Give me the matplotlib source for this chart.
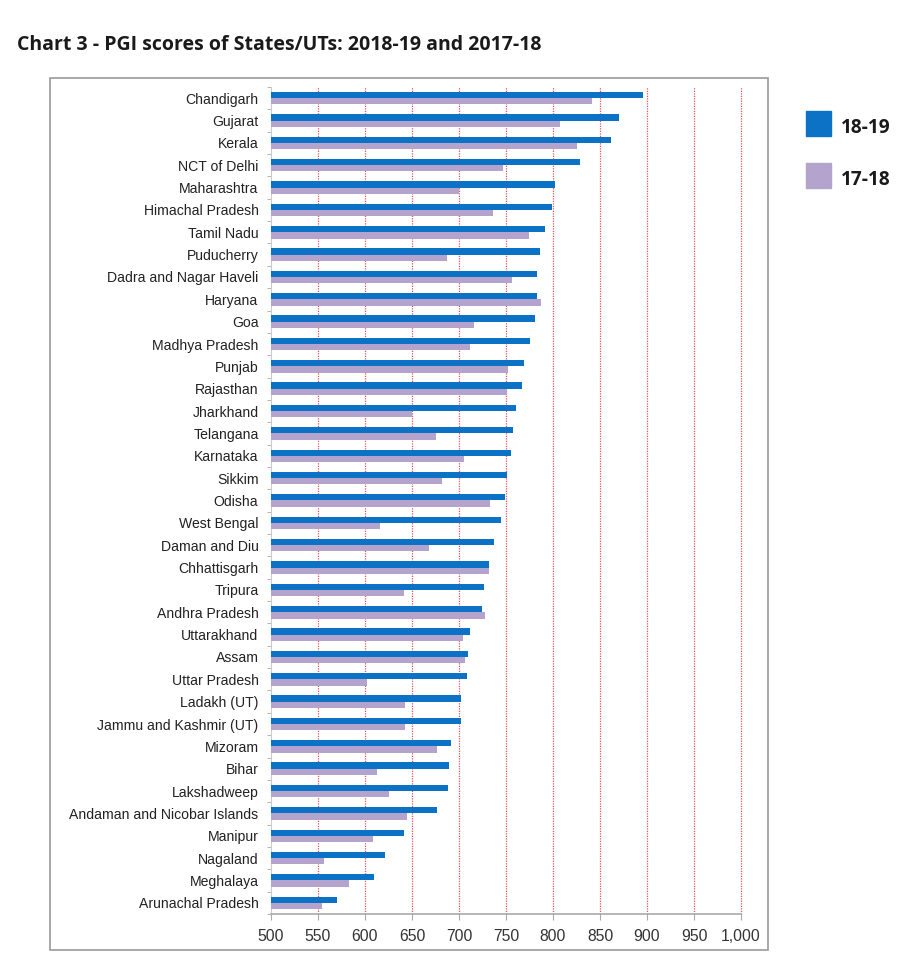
import matplotlib.pyplot as plt
import matplotlib.patches as mpatches
import numpy as np

# Daten
states = ["Chandigarh", "Gujarat", "Kerala", "NCT of Delhi", "Maharashtra",
          "Himachal Pradesh", "Tamil Nadu", "Puducherry", "Dadra and Nagar Haveli",
          "Haryana", "Goa", "Madhya Pradesh", "Punjab", "Rajasthan", "Jharkhand",
          "Telangana", "Karnataka", "Sikkim", "Odisha", "West Bengal", "Daman and Diu",
          "Chhattisgarh", "Tripura", "Andhra Pradesh", "Uttarakhand", "Assam",
          "Uttar Pradesh", "Ladakh (UT)", "Jammu and Kashmir (UT)", "Mizoram", "Bihar",
          "Lakshadweep", "Andaman and Nicobar Islands", "Manipur", "Nagaland",
          "Meghalaya", "Arunachal Pradesh"]
score_1819 = [896, 870, 862, 829, 802, 799, 791, 786, 783, 783, 781, 775, 769, 767,
              761, 757, 755, 751, 749, 745, 737, 732, 727, 724, 712, 710, 708, 702,
              702, 692, 689, 688, 677, 641, 621, 610, 570]
score_1718 = [841, 807, 826, 747, 700, 736, 774, 687, 756, 787, 716, 712, 752, 751,
              650, 675, 705, 682, 733, 616, 668, 732, 642, 728, 704, 706, 602, 643,
              643, 677, 613, 626, 645, 608, 556, 583, 554]
xticks = [500, 550, 600, 650, 700, 750, 800, 850, 900, 950, 1000]

blue = "#0b72c6"
purple = "#b4a3cd"

fig = plt.figure(figsize=(9.17, 9.66), dpi=100)

# Rahmen um das Diagramm
fig.patches.append(mpatches.Rectangle((50 / 917, 1 - 950 / 966), 718 / 917, 872 / 966,
                                      transform=fig.transFigure, fill=False,
                                      edgecolor="#9a9a9a", linewidth=1.2))

ax = fig.add_axes([271 / 917, 1 - 914 / 966, 470 / 917, 827 / 966])

n = len(states)
y = np.arange(n)
h = 0.28
ax.barh(y - h / 2, score_1819, height=h, left=0, color=blue, zorder=3)
ax.barh(y + h / 2, score_1718, height=h, left=0, color=purple, zorder=3)

ax.set_xlim(500, 1000)
ax.set_ylim(n - 0.5, -0.5)

ax.set_xticks(xticks)
ax.set_xticklabels([f"{v:,}" for v in xticks], fontsize=11.3, color="#333333",
                   family="Liberation Sans")
ax.set_yticks(y)
ax.set_yticklabels(states, fontsize=10.1, color="#222222", family="Liberation Sans")
ax.set_yticks(np.arange(-0.5, n, 1), minor=True)
ax.tick_params(axis="y", which="major", length=0, pad=9)
ax.tick_params(axis="y", which="minor", length=3, color="#aaaaaa")
ax.tick_params(axis="x", length=4, color="#aaaaaa", pad=7)

for v in xticks[1:]:
    ax.axvline(v, color="#e2535c", linestyle=(0, (1, 1)), linewidth=0.9, zorder=1,
               clip_on=False)

for s in ["top", "right"]:
    ax.spines[s].set_visible(False)
ax.spines["left"].set_color("#cccccc")
ax.spines["bottom"].set_color("#aaaaaa")
ax.spines["bottom"].set_linewidth(1.2)

fig.text(17 / 917, 1 - 45 / 966, "Chart 3 - PGI scores of States/UTs: 2018-19 and 2017-18",
         fontsize=14, fontweight="bold", family="Open Sans", color="#1a1a1a",
         va="center", ha="left")

# Legende
for i, (lab, col) in enumerate([("18-19", blue), ("17-18", purple)]):
    yc = 123 + i * 52
    fig.patches.append(mpatches.Rectangle((806 / 917, 1 - (yc + 12.5) / 966), 25 / 917, 25 / 966,
                                          transform=fig.transFigure, color=col))
    fig.text(841 / 917, 1 - (yc + 5) / 966, lab, fontsize=13.8, fontweight="bold",
             family="Open Sans", color="#1a1a1a", va="center", ha="left")

plt.savefig("out.png", dpi=100)
